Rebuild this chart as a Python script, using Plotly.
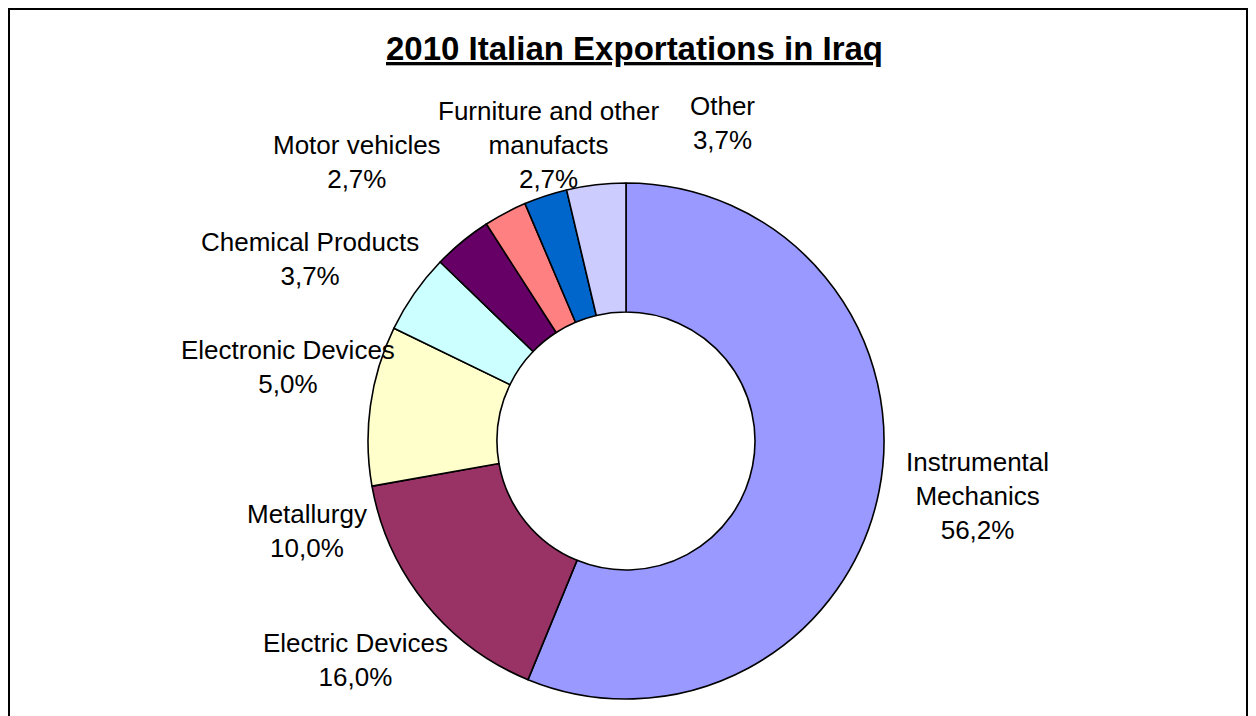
import plotly.graph_objects as go

# ---- data ----
categories = [
    "Instrumental Mechanics",
    "Electric Devices",
    "Metallurgy",
    "Electronic Devices",
    "Chemical Products",
    "Motor vehicles",
    "Furniture and other manufacts",
    "Other",
]
label_text = [
    "Instrumental<br>Mechanics",
    "Electric Devices",
    "Metallurgy",
    "Electronic Devices",
    "Chemical Products",
    "Motor vehicles",
    "Furniture and other<br>manufacts",
    "Other",
]
shares = [56.2, 16.0, 10.0, 5.0, 3.7, 2.7, 2.7, 3.7]

# ---- styles / layout ----
colors = ["#9999FF", "#993366", "#FFFFCC", "#CCFFFF", "#660066", "#FF8080", "#0066CC", "#CCCCFF"]
label_pos_px = [  # (center x, center y) in window pixels
    (977, 496),
    (355, 660),
    (307, 531),
    (288, 367),
    (310, 259),
    (357, 162),
    (548, 145),
    (722, 123),
]
OFF = 8  # page body margin
W, H = 1256, 716
cx, cy, R = 626 - OFF, 441 - OFF, 258


def px(x):
    return (x - OFF) / W


def py(y):
    return 1 - (y - OFF) / H


fig = go.Figure()
fig.add_trace(go.Pie(
    labels=categories,
    values=shares,
    sort=False,
    direction="clockwise",
    rotation=0,
    hole=0.5,
    textinfo="none",
    hoverinfo="label+percent",
    showlegend=False,
    marker=dict(colors=colors, line=dict(color="black", width=1.6)),
    domain=dict(x=[(cx - R) / W, (cx + R) / W], y=[1 - (cy + R) / H, 1 - (cy - R) / H]),
))

annotations = [dict(
    text="<b><u>2010 Italian Exportations in Iraq</u></b>",
    x=px(634), y=py(48), xref="paper", yref="paper",
    xanchor="center", yanchor="middle", showarrow=False,
    font=dict(family="Liberation Sans, Arial, sans-serif", size=33, color="black"),
)]
for name, v, (lx, ly) in zip(label_text, shares, label_pos_px):
    annotations.append(dict(
        text=f"{name}<br>{v:.1f}".replace(".", ",") + "%",
        x=px(lx), y=py(ly), xref="paper", yref="paper",
        xanchor="center", yanchor="middle", align="center", showarrow=False,
        font=dict(family="Liberation Sans, Arial, sans-serif", size=26, color="black"),
    ))

fig.update_layout(
    width=W, height=H,
    margin=dict(l=0, r=0, t=0, b=0),
    paper_bgcolor="white",
    plot_bgcolor="white",
    annotations=annotations,
    shapes=[dict(
        type="rect", xref="paper", yref="paper",
        x0=px(9), x1=px(1247), y0=-0.05, y1=py(9),
        line=dict(color="black", width=2), fillcolor="rgba(0,0,0,0)", layer="below",
    )],
)

fig.write_html("out.html")
